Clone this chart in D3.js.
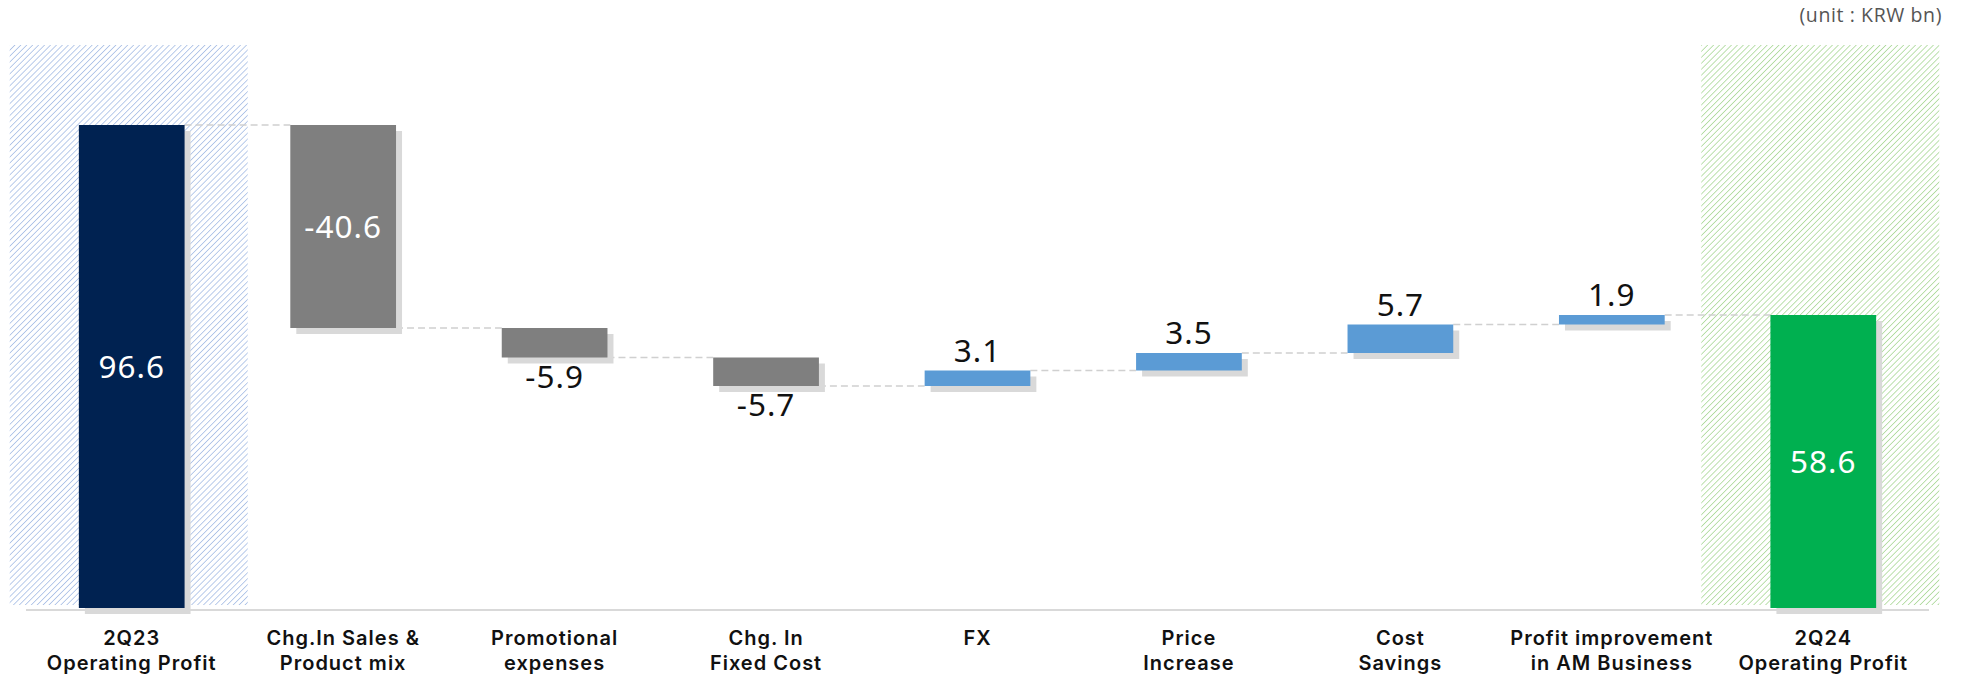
<!DOCTYPE html>
<html>
<head>
<meta charset="utf-8">
<script src="https://cdn.jsdelivr.net/npm/d3@7"></script>
<style>
  html, body { margin: 0; padding: 0; background: #fff; }
  svg { display: block; }
</style>
</head>
<body>
<svg id="chart" width="1963" height="675"></svg>
<script>
// ---- data ----
const categories = [
  ["2Q23", "Operating Profit"],
  ["Chg.In Sales &", "Product mix"],
  ["Promotional", "expenses"],
  ["Chg. In", "Fixed Cost"],
  ["FX"],
  ["Price", "Increase"],
  ["Cost", "Savings"],
  ["Profit improvement", "in AM Business"],
  ["2Q24", "Operating Profit"]
];
const values = [96.6, -40.6, -5.9, -5.7, 3.1, 3.5, 5.7, 1.9, 58.6];
const kinds = ["start", "delta", "delta", "delta", "delta", "delta", "delta", "delta", "end"];
const valueLabels = ["96.6", "-40.6", "-5.9", "-5.7", "3.1", "3.5", "5.7", "1.9", "58.6"];
const unitText = "(unit : KRW bn)";

// ---- build waterfall segments ----
let running = 0;
const segs = values.map((v, i) => {
  let y0, y1;
  if (kinds[i] === "delta") { y0 = running; y1 = running + v; running = y1; }
  else { y0 = 0; y1 = v; running = v; }
  return { i, v, kind: kinds[i], lo: Math.min(y0, y1), hi: Math.max(y0, y1), end: running, label: valueLabels[i], cat: categories[i] };
});

const svg = d3.select("#chart");

const x = d3.scaleBand().domain(d3.range(values.length)).range([26, 1929]).paddingInner(0.5).paddingOuter(0.25);
const y = d3.scaleLinear().domain([0, 112.8]).range([608, 44]);

const colorOf = d => d.kind === "start" ? "#002251" : d.kind === "end" ? "#00b050" : (d.v < 0 ? "#7f7f7f" : "#5b9bd5");

// patterns
const defs = svg.append("defs");
function hatch(id, color) {
  const p = defs.append("pattern").attr("id", id).attr("patternUnits", "userSpaceOnUse")
    .attr("width", 4.2).attr("height", 4.2).attr("patternTransform", "rotate(45)");
  p.append("line").attr("x1", 0).attr("y1", 0).attr("x2", 0).attr("y2", 4.2)
    .attr("stroke", color).attr("stroke-width", 1.6);
}
hatch("hatchBlue", "#a9bfe6");
hatch("hatchGreen", "#acd99a");

// hatch backgrounds for totals
const hatchW = 238;
svg.append("g").selectAll("rect").data(segs.filter(d => d.kind !== "delta")).join("rect")
  .attr("x", d => x(d.i) + x.bandwidth() / 2 - hatchW / 2 - 3)
  .attr("y", y(112.8) + 1)
  .attr("width", hatchW)
  .attr("height", y(0) - 3 - (y(112.8) + 1))
  .attr("fill", d => d.kind === "start" ? "url(#hatchBlue)" : "url(#hatchGreen)");

// axis baseline
svg.append("line").attr("x1", x.range()[0]).attr("x2", x.range()[1])
  .attr("y1", y(0) + 2).attr("y2", y(0) + 2).attr("stroke", "#d9d9d9").attr("stroke-width", 2);

// connectors
const conn = svg.append("g");
segs.slice(0, -1).forEach(d => {
  conn.append("line")
    .attr("x1", x(d.i) + x.bandwidth()).attr("x2", x(d.i + 1))
    .attr("y1", y(d.end)).attr("y2", y(d.end))
    .attr("stroke", "#d0d0d0").attr("stroke-width", 1.5).attr("stroke-dasharray", "7,4");
});

// shadows
svg.append("g").selectAll("rect").data(segs).join("rect")
  .attr("x", d => x(d.i) + 6).attr("y", d => y(d.hi) + 6)
  .attr("width", x.bandwidth()).attr("height", d => y(d.lo) - y(d.hi))
  .attr("fill", "#d9d9d9");

// bars
svg.append("g").selectAll("rect").data(segs).join("rect")
  .attr("x", d => x(d.i)).attr("y", d => y(d.hi))
  .attr("width", x.bandwidth()).attr("height", d => y(d.lo) - y(d.hi))
  .attr("fill", colorOf);

// value labels
const vl = svg.append("g").attr("font-family", "'Noto Sans', sans-serif").attr("font-size", 31.5).attr("text-anchor", "middle");
segs.forEach(d => {
  const cx = x(d.i) + x.bandwidth() / 2;
  let ty, fill = "#111";
  if (d.kind !== "delta" || (y(d.lo) - y(d.hi)) > 60) {
    ty = (y(d.lo) + y(d.hi)) / 2 + 11; fill = "#fff";
  } else if (d.v < 0) {
    ty = y(d.lo) + 30;
  } else {
    ty = y(d.hi) - 9;
  }
  vl.append("text").attr("x", cx).attr("y", ty).attr("fill", fill).attr("letter-spacing", 1).text(d.label);
});

// category labels (one text per line)
const cl = svg.append("g").attr("font-family", "Inter, sans-serif").attr("font-weight", 600)
  .attr("font-size", 20).attr("text-anchor", "middle").attr("fill", "#111");
segs.forEach(d => {
  d.cat.forEach((line, j) => {
    cl.append("text").attr("x", x(d.i) + x.bandwidth() / 2).attr("y", 645 + j * 24.5)
      .attr("letter-spacing", 1.0).text(line);
  });
});

// unit text
svg.append("text").attr("x", 1942).attr("y", 21.5).attr("text-anchor", "end")
  .attr("font-family", "'Open Sans', sans-serif").attr("font-size", 19.5).attr("fill", "#555")
  .attr("letter-spacing", 0.6)
  .text(unitText);
</script>
</body>
</html>
